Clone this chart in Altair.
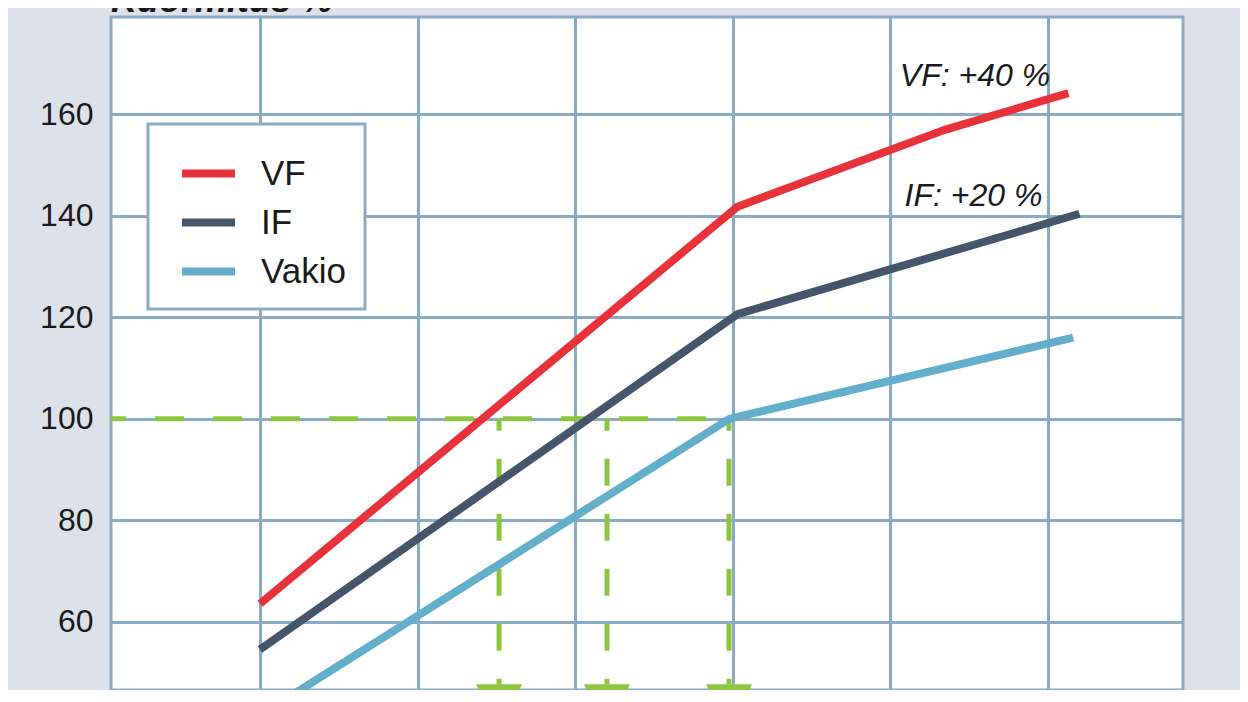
import altair as alt
import pandas as pd

# ---- data ----
series_names = ["VF", "IF", "Vakio"]
series_colors = ["#e8323a", "#46566a", "#62aecb"]

vf_x = [1.0, 4.03, 5.35, 6.13]
vf_y = [63.5, 141.8, 157.0, 164.2]
if_x = [1.0, 4.03, 6.2]
if_y = [54.5, 120.6, 140.4]
vakio_x = [1.0, 3.98, 6.16]
vakio_y = [41.5, 100.0, 116.0]

y_ticks = [60, 80, 100, 120, 140, 160]
x_grid = [1, 2, 3, 4, 5, 6]
x_domain = [0.0546, 6.857]
y_domain = [46.5, 179.2]

ref_level = 100
drop_x = [2.517, 3.202, 3.976]
drop_end = 47.6
arrow_level = 43.1

annot_text = ["VF: +40 %", "IF: +20 %"]
annot_x = [5.06, 5.09]
annot_y = [165.6, 142.0]

y_title = "Kuormitus %"

# ---- styling ----
FONT = "Liberation Sans Narrow, Arial Narrow, Liberation Sans, sans-serif"
GRID = "#8aabc5"
GREEN = "#8cc63f"
BG = "#dde2ea"
TXT = "#1a1a1a"

rows = []
for name, xs_, ys_ in [("VF", vf_x, vf_y), ("IF", if_x, if_y), ("Vakio", vakio_x, vakio_y)]:
    for i, (xv, yv) in enumerate(zip(xs_, ys_)):
        rows.append({"series": name, "x": xv, "y": yv, "i": i})
df_lines = pd.DataFrame(rows)

xs = alt.Scale(domain=x_domain, nice=False, zero=False)
ys = alt.Scale(domain=y_domain, nice=False, zero=False)

x_axis = alt.Axis(values=x_grid, grid=True, labels=False, ticks=False, domain=False, title=None)
y_axis = alt.Axis(values=y_ticks, grid=True, domain=False, ticks=False, tickSize=0,
                  labelPadding=18, labelFont=FONT, labelFontSize=32, labelColor=TXT, title=None)

lines = alt.Chart(df_lines).mark_line(strokeWidth=8).encode(
    x=alt.X("x:Q", scale=xs, axis=x_axis),
    y=alt.Y("y:Q", scale=ys, axis=y_axis),
    order="i:Q",
    color=alt.Color(
        "series:N",
        scale=alt.Scale(domain=series_names, range=series_colors),
        legend=alt.Legend(
            orient="none", legendX=37, legendY=107, title=None,
            symbolType="stroke", symbolSize=2809, symbolStrokeWidth=8,
            symbolOffset=11,
            labelFont=FONT, labelFontSize=35, labelColor=TXT, labelOffset=22,
            rowPadding=-19.5, padding=19, fillColor="white", strokeColor=GRID,
        ),
    ),
)

h_rule = alt.Chart(pd.DataFrame({"x": [x_domain[0]], "y": [ref_level], "x2": [max(drop_x)]})).mark_rule(
    color=GREEN, strokeWidth=5, strokeDash=[29, 29], strokeDashOffset=14
).encode(x="x:Q", x2="x2:Q", y="y:Q")

v_rules = alt.Chart(pd.DataFrame({"x": drop_x, "y": [ref_level] * 3, "y2": [drop_end] * 3})).mark_rule(
    color=GREEN, strokeWidth=5, strokeDash=[27, 28], strokeDashOffset=15
).encode(x="x:Q", y="y:Q", y2="y2:Q")

arrows = alt.Chart(pd.DataFrame({"x": drop_x, "y": [arrow_level] * 3})).mark_point(
    shape="M-1,-1L1,-1L0,1.15Z", filled=True, size=2116, color=GREEN, opacity=1
).encode(x="x:Q", y="y:Q")

annots = alt.Chart(pd.DataFrame({"x": annot_x, "y": annot_y, "t": annot_text})).mark_text(
    align="left", baseline="alphabetic", font=FONT, fontSize=32, fontStyle="italic", color=TXT
).encode(x="x:Q", y="y:Q", text="t:N")

title_txt = alt.Chart(pd.DataFrame({"t": [y_title]})).mark_text(
    align="left", baseline="alphabetic", font=FONT, fontSize=36, fontStyle="italic",
    fontWeight="bold", color=TXT
).encode(x=alt.value(0), y=alt.value(-5), text="t:N")

chart = alt.layer(v_rules, h_rule, arrows, lines, annots, title_txt).properties(
    width=1072, height=673,
    autosize=alt.AutoSizeParams(type="none"),
    padding={"left": 103, "top": 9, "right": 57, "bottom": 0},
    background=BG,
).configure_view(
    fill="white", stroke=GRID, strokeWidth=3
).configure_axis(
    gridColor=GRID, gridWidth=3, gridOpacity=1
).configure_legend(
    strokeWidth=3
)

chart.save("out.html", embed_options={"renderer": "svg", "actions": False})
